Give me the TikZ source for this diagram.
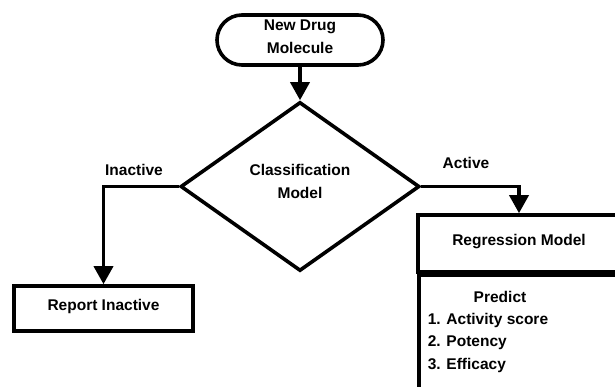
\documentclass[tikz,border=0pt]{standalone}
\usepackage{fontspec}
\setmainfont{Liberation Sans}
\usetikzlibrary{arrows.meta,shapes.geometric}
\begin{document}
\begin{tikzpicture}[x=1pt,y=-1pt,
  line width=3.6pt,
  every node/.style={font=\bfseries\fontsize{15.5}{23}\selectfont},
  shape box/.style={draw, line width=3.6pt, outer sep=1.8pt},
  txt/.style={inner sep=0pt},
  boxtext/.style={text height=11.3pt, text depth=8.3pt},
  flow/.style={draw, line width=3.6pt, -{Triangle[width=19pt,length=18pt]}}
]
\useasboundingbox (0,0) rectangle (615,387);

% start terminal
\node[shape box, rounded corners=25pt, minimum width=166pt, minimum height=50pt,
      label={[name=startlbl, align=center, yshift=2.9pt]center:New Drug\\Molecule}]
  (start) at (300,40) {};

% decision
\node[shape box, diamond, minimum width=239pt, minimum height=169pt,
      label={[name=clslbl, align=center, yshift=4.6pt]center:Classification\\Model}]
  (cls) at (300,186.5) {};

% inactive outcome
\node[shape box, boxtext, minimum width=179pt, minimum height=45pt]
  (rep) at (103.5,308.5) {Report Inactive};

% regression boxes (run past the right and bottom edges)
\begin{scope}
  \clip (0,0) rectangle (615,387);
  \draw (418,215) rectangle (700,272);
  \draw (419,275.5) rectangle (700,450);
\end{scope}
\node[boxtext, outer sep=1.8pt, minimum height=57pt] (reg) at (519,243.5) {Regression Model};

\node[txt, anchor=base] (pred) at (500,302) {Predict};
\node[txt, anchor=base west] (p1) at (426,324) {1. Activity score};
\node[txt, anchor=base west] (p2) at (426,346.7) {2. Potency};
\node[txt, anchor=base west] (p3) at (426,369) {3. Efficacy};

% branch labels
\node[txt, anchor=base] (lin) at (134,175.3) {Inactive};
\node[txt, anchor=base] (lact) at (466,168.3) {Active};

% connectors
\draw[flow] (start.south) -- (cls.north);
\draw[flow] (cls.west) -| (rep.north);
\draw[flow] (cls.east) -| (reg.north);
\end{tikzpicture}
\end{document}
